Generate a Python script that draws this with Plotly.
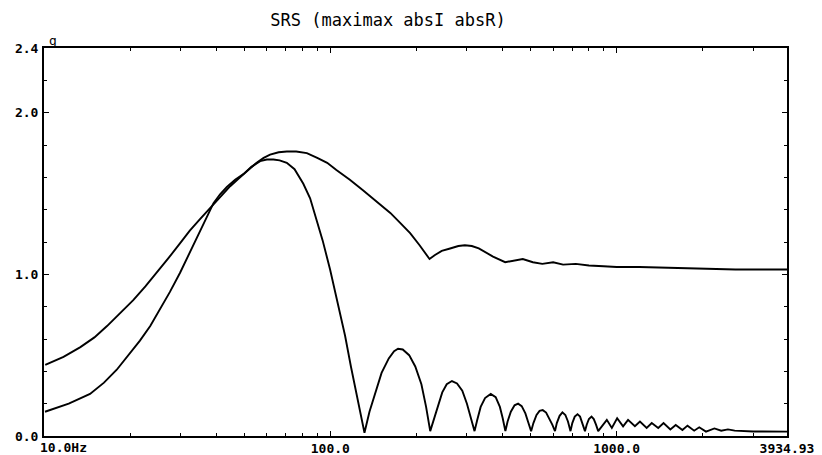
import plotly.graph_objects as go

# ---- data ----
f_upper = [10.1, 11.7, 13.4, 15.0, 16.6, 18.5, 20.5, 22.6, 24.8, 27.2, 29.8, 32.3, 35.0, 38.0,
           41.2, 44.7, 48.4, 52.0, 55.3, 58.5, 61.6, 66.0, 70.5, 76.0, 82.8, 90.0, 97.5,
           105, 117, 130, 145, 162, 175, 190, 205, 222, 232, 245, 262, 280, 295, 312, 330, 350,
           370, 408, 440, 470, 510, 550, 600, 650, 720, 800, 900, 1000, 1200, 1500, 2000,
           2600, 3200, 3934.93]
v_upper = [0.44, 0.49, 0.55, 0.61, 0.68, 0.76, 0.84, 0.925, 1.01, 1.10, 1.19, 1.27, 1.34, 1.41,
           1.48, 1.545, 1.60, 1.65, 1.69, 1.72, 1.74, 1.755, 1.76, 1.76, 1.75, 1.72, 1.69,
           1.645, 1.585, 1.52, 1.45, 1.38, 1.32, 1.255, 1.18, 1.095, 1.12, 1.145, 1.16, 1.175,
           1.18, 1.175, 1.16, 1.135, 1.11, 1.075, 1.085, 1.095, 1.075, 1.065, 1.075, 1.06,
           1.065, 1.055, 1.05, 1.045, 1.045, 1.04, 1.035, 1.03, 1.03, 1.03]

f_lower = [10.08, 12.2, 14.48, 16.2, 17.95, 19.7, 21.63, 23.5, 25.41, 27.5, 29.87, 32.0, 34.18,
           36.5, 39.08, 41.2, 43.52, 46.5, 49.72, 53.0, 56.87, 60.0, 63.28, 66.5, 70.46, 75.0,
           80.48, 85.0, 89.76, 94.0, 99.8, 105.4, 112.6, 118, 122, 126, 131.6,
           137, 144.5, 151, 160, 167, 172.4, 179, 188.5, 198, 208, 216, 223.3,
           230, 238, 246, 255, 265.9, 277, 289, 300, 310, 318.9,
           326, 335, 347, 363.2, 378, 391, 400, 408.7,
           416, 427, 440, 452.7, 466, 480, 492, 502.6,
           512, 525, 538, 551.9, 567, 582, 596, 609.1,
           618, 632, 646.6, 662, 676, 690,
           700, 714, 730, 745, 760, 775,
           786, 800, 817, 832, 847, 862,
           924, 962, 1004, 1053, 1096, 1158, 1206, 1273, 1326, 1397, 1458, 1540, 1608,
           1697, 1768, 1865, 1943, 2051, 2195, 2318, 2447, 2584, 3000, 3934.93]
v_lower = [0.15, 0.20, 0.26, 0.33, 0.41, 0.50, 0.59, 0.68, 0.78, 0.89, 1.01, 1.12, 1.23,
           1.33, 1.44, 1.495, 1.54, 1.585, 1.62, 1.665, 1.70, 1.71, 1.71, 1.705, 1.69, 1.65,
           1.56, 1.47, 1.336, 1.21, 1.03, 0.84, 0.62, 0.43, 0.30, 0.17, 0.02,
           0.15, 0.28, 0.39, 0.48, 0.525, 0.54, 0.535, 0.50, 0.43, 0.32, 0.18, 0.03,
           0.10, 0.19, 0.27, 0.32, 0.34, 0.325, 0.28, 0.20, 0.11, 0.03,
           0.10, 0.18, 0.235, 0.26, 0.24, 0.18, 0.11, 0.03,
           0.09, 0.15, 0.19, 0.20, 0.185, 0.14, 0.08, 0.03,
           0.08, 0.13, 0.155, 0.16, 0.145, 0.11, 0.07, 0.03,
           0.08, 0.125, 0.146, 0.13, 0.09, 0.03,
           0.08, 0.12, 0.135, 0.12, 0.08, 0.03,
           0.07, 0.105, 0.12, 0.105, 0.07, 0.03,
           0.10, 0.05, 0.11, 0.06, 0.10, 0.06, 0.09, 0.05, 0.08, 0.05, 0.08, 0.04, 0.068,
           0.037, 0.064, 0.033, 0.054, 0.027, 0.047, 0.033, 0.041, 0.033, 0.028, 0.027]

x_tickvals = [10, 100, 1000, 3934.93]
x_ticktext = ["", "100.0", "1000.0", "3934.93"]
x_first_label = "10.0Hz"   # drawn as a left-anchored label at the first tick
x_minor = [20, 30, 40, 50, 60, 70, 80, 90, 200, 300, 400, 500, 600, 700, 800, 900, 2000, 3000]
y_tickvals = [0, 1.0, 2.0, 2.4]
y_ticktext = ["0.0", "1.0", "2.0", "2.4"]
title_text = "SRS (maximax absI absR)"
unit_text = "g"

line_style = dict(color="black", width=1.9)

fig = go.Figure()
fig.add_trace(go.Scatter(x=f_upper, y=v_upper, mode="lines", line=line_style, showlegend=False))
fig.add_trace(go.Scatter(x=f_lower, y=v_lower, mode="lines", line=line_style, showlegend=False))

mono_y = dict(family="DejaVu Sans Mono", size=13, color="black", weight="bold")
mono_x = dict(family="DejaVu Sans Mono", size=13, color="black", weight="bold")

# the page body keeps its default 8px margin, so the figure is 8px smaller
W, H = 814, 447
fig.update_layout(
    width=W, height=H,
    margin=dict(l=36, r=35, t=40, b=19),
    paper_bgcolor="white", plot_bgcolor="white",
    title=dict(text=title_text, x=380/W, xanchor="center", y=1 - 12/H, yanchor="middle",
               font=dict(family="DejaVu Sans Mono", size=17, color="black")),
    xaxis=dict(type="log", range=[1, 3.594935], tickvals=x_tickvals, ticktext=x_ticktext,
               automargin=False, ticklabeloverflow="allow",
               showgrid=False, zeroline=False, showline=True, linecolor="black", linewidth=2,
               mirror="ticks", ticks="inside", ticklen=5, tickcolor="black", tickwidth=1,
               tickfont=mono_x, ticklabelstandoff=-1,
               minor=dict(tickvals=x_minor, ticks="inside", ticklen=3, tickcolor="black",
                          showgrid=False)),
    yaxis=dict(range=[0, 2.4], tickvals=y_tickvals, ticktext=y_ticktext,
               automargin=False, ticklabeloverflow="allow",
               showgrid=False, zeroline=False, showline=True, linecolor="black", linewidth=2,
               mirror="ticks", ticks="inside", ticklen=5, tickcolor="black", tickwidth=1,
               tickfont=mono_y, ticklabelstandoff=1,
               minor=dict(dtick=0.2, ticks="inside", ticklen=3, tickcolor="black",
                          showgrid=False)),
    annotations=[
        dict(text=unit_text, xref="paper", yref="paper", x=0.004, y=1.0,
             xanchor="left", yanchor="bottom", showarrow=False, yshift=-2,
             font=dict(family="DejaVu Sans Mono", size=13, color="black")),
        dict(text=x_first_label, xref="paper", yref="paper", x=0, y=0,
             xanchor="left", yanchor="top", showarrow=False, xshift=-6, yshift=-2,
             font=mono_x),
    ],
)

fig.write_html("out.html")
